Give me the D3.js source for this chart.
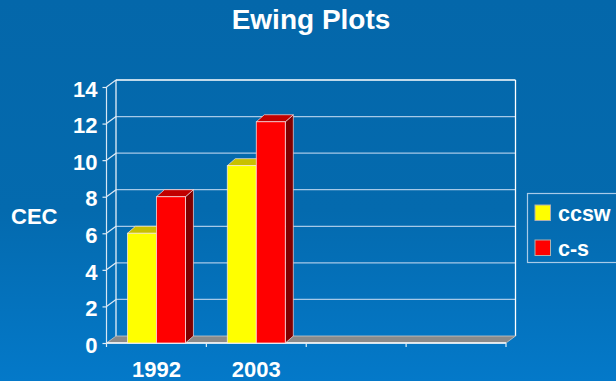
<!DOCTYPE html>
<html>
<head>
<meta charset="utf-8">
<script src="https://cdn.jsdelivr.net/npm/d3@7"></script>
<style>
  html, body { margin: 0; padding: 0; overflow: hidden; }
  svg { display: block; font-family: "Liberation Sans", Arial, sans-serif; font-weight: bold; }
</style>
</head>
<body>
<svg id="chart" width="616" height="381"></svg>
<script>
// Chart data
const title = "Ewing Plots";
const yTitle = "CEC";
const categories = ["1992", "2003", "", ""];
const seriesNames = ["ccsw", "c-s"];
const ccswValues = [6.0, 9.7];
const csValues = [8.0, 12.1];
const yTicks = [0, 2, 4, 6, 8, 10, 12, 14];

const seriesColors = [
  { front: "#ffff00", top: "#c8c000", side: "#9a9400" },
  { front: "#ff0000", top: "#c00000", side: "#800000" }
];

const W = 616, H = 381;
const svg = d3.select("#chart");

// background gradient
const defs = svg.append("defs");
const grad = defs.append("linearGradient").attr("id", "bg")
  .attr("x1", 0).attr("y1", 0).attr("x2", 0).attr("y2", 1);
grad.append("stop").attr("offset", "0%").attr("stop-color", "#0467aa");
grad.append("stop").attr("offset", "55%").attr("stop-color", "#046aae");
grad.append("stop").attr("offset", "100%").attr("stop-color", "#0479c9");
svg.append("rect").attr("width", W).attr("height", H).attr("fill", "url(#bg)");

// 3D plot geometry
const plotLeft = 106.5, plotRight = 506, plotBottom = 343, plotTop = 87;
const depthX = 9.5, depthY = 7;     // wall depth
const barDX = 8, barDY = 7;          // bar depth

const x = d3.scaleBand().domain(d3.range(categories.length)).range([plotLeft, plotRight]).padding(0);
const y = d3.scaleLinear().domain([0, 14]).range([plotBottom, plotTop]);

const g = svg.append("g");
const gridColor = "#a6c9e8";

// back wall gridlines and side wall diagonals
yTicks.forEach(t => {
  if (t === 0) return;
  g.append("line")
    .attr("x1", plotLeft + depthX).attr("x2", plotRight + depthX)
    .attr("y1", y(t) - depthY).attr("y2", y(t) - depthY)
    .attr("stroke", t === 14 ? "#ffffff" : gridColor).attr("stroke-width", 1.3);
  g.append("line")
    .attr("x1", plotLeft).attr("y1", y(t))
    .attr("x2", plotLeft + depthX).attr("y2", y(t) - depthY)
    .attr("stroke", "#dfeaf5").attr("stroke-width", 1.2);
});

// back wall left and right edges
g.append("line").attr("x1", plotLeft + depthX).attr("x2", plotLeft + depthX)
  .attr("y1", y(14) - depthY).attr("y2", y(0) - depthY)
  .attr("stroke", "#e8f0f8").attr("stroke-width", 1.3);
g.append("line").attr("x1", plotRight + depthX).attr("x2", plotRight + depthX)
  .attr("y1", y(14) - depthY).attr("y2", y(0) - depthY)
  .attr("stroke", "#ffffff").attr("stroke-width", 1.3);

// floor
g.append("path")
  .attr("d", `M${plotLeft},${y(0)} L${plotRight},${y(0)} L${plotRight + depthX},${y(0) - depthY} L${plotLeft + depthX},${y(0) - depthY} Z`)
  .attr("fill", "#8a8a8a").attr("stroke", "#c8c8c8").attr("stroke-width", 0.8);
g.append("line").attr("x1", plotLeft).attr("x2", plotRight).attr("y1", y(0)).attr("y2", y(0))
  .attr("stroke", "#ffffff").attr("stroke-width", 1.4);

// front value axis
g.append("line").attr("x1", plotLeft).attr("x2", plotLeft).attr("y1", y(14)).attr("y2", y(0))
  .attr("stroke", "#d8e6f3").attr("stroke-width", 1.2);

const yAxis = d3.axisLeft(y).tickValues(yTicks).tickSize(4).tickPadding(5);
const ya = g.append("g").attr("transform", `translate(${plotLeft},0)`).call(yAxis);
ya.select(".domain").remove();
ya.selectAll(".tick line").attr("stroke", "#e0ecf6").attr("stroke-width", 1.2);
ya.selectAll(".tick text")
  .attr("fill", "#ffffff").attr("font-size", 22).attr("font-weight", "bold")
  .attr("font-family", "Liberation Sans, Arial, sans-serif")
  .attr("dy", "0.42em");

// category axis
const xAxis = d3.axisBottom(x).tickFormat(i => categories[i]).tickSize(0).tickPadding(18);
const xa = g.append("g").attr("transform", `translate(0,${plotBottom})`).call(xAxis);
xa.select(".domain").remove();
xa.selectAll(".tick text")
  .attr("fill", "#ffffff").attr("font-size", 22).attr("font-weight", "bold")
  .attr("font-family", "Liberation Sans, Arial, sans-serif");
// category boundary ticks
d3.range(categories.length + 1).forEach(i => {
  const xv = plotLeft + i * x.bandwidth();
  g.append("line").attr("x1", xv).attr("x2", xv).attr("y1", plotBottom).attr("y2", plotBottom + 4)
    .attr("stroke", "#e0ecf6").attr("stroke-width", 1.2);
});

// bars
const seriesValues = [ccswValues, csValues];
const barW = 29;
const barStroke = "rgba(255,235,235,0.8)";
seriesValues.forEach((vals, s) => {
  vals.forEach((v, i) => {
    const cx = x(i) + x.bandwidth() / 2;
    const x0 = cx - barW + s * barW, x1 = x0 + barW;
    const yt = y(v), yb = y(0);
    const c = seriesColors[s];
    g.append("path")
      .attr("d", `M${x1},${yb} L${x1 + barDX},${yb - barDY} L${x1 + barDX},${yt - barDY} L${x1},${yt} Z`)
      .attr("fill", c.side).attr("stroke", barStroke).attr("stroke-width", 0.8);
    g.append("path")
      .attr("d", `M${x0},${yt} L${x0 + barDX},${yt - barDY} L${x1 + barDX},${yt - barDY} L${x1},${yt} Z`)
      .attr("fill", c.top).attr("stroke", barStroke).attr("stroke-width", 0.8);
    g.append("rect")
      .attr("x", x0).attr("y", yt).attr("width", barW).attr("height", yb - yt)
      .attr("fill", c.front).attr("stroke", barStroke).attr("stroke-width", 0.9);
  });
});

// title
svg.append("text").attr("x", 311).attr("y", 29).attr("text-anchor", "middle")
  .attr("fill", "#ffffff").attr("font-size", 28).text(title);

// y axis title
svg.append("text").attr("x", 11).attr("y", 224).attr("fill", "#ffffff")
  .attr("font-size", 22).text(yTitle);

// legend
const lg = svg.append("g");
lg.append("rect").attr("x", 527.5).attr("y", 193.5).attr("width", 100).attr("height", 69)
  .attr("fill", "none").attr("stroke", "#a9cbe8").attr("stroke-width", 1.2);
seriesNames.forEach((name, s) => {
  const ly = 205 + s * 35;
  lg.append("rect").attr("x", 535).attr("y", ly).attr("width", 15.5).attr("height", 15.5)
    .attr("fill", seriesColors[s].front).attr("stroke", "#b0b0b0").attr("stroke-width", 1);
  lg.append("text").attr("x", 558).attr("y", ly + 15.5).attr("fill", "#ffffff")
    .attr("font-size", 21.5).text(name);
});
</script>
</body>
</html>
